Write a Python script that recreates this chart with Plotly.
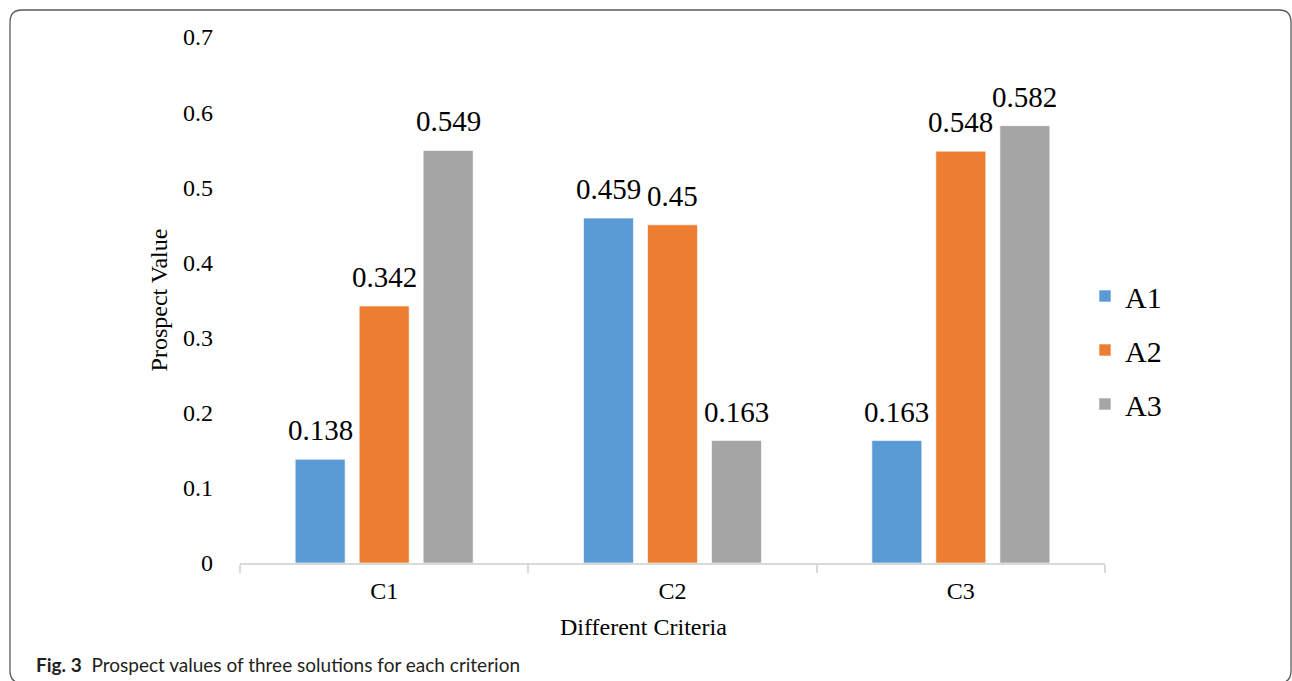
import plotly.graph_objects as go

categories = ["C1", "C2", "C3"]
series_names = ["A1", "A2", "A3"]
a1_values = [0.138, 0.459, 0.163]
a2_values = [0.342, 0.45, 0.548]
a3_values = [0.549, 0.163, 0.582]
series_values = [a1_values, a2_values, a3_values]
colors = ["#5B9BD5", "#ED7D31", "#A5A5A5"]
y_ticks = [0, 0.1, 0.2, 0.3, 0.4, 0.5, 0.6, 0.7]

W, H = 1292, 681
L, R, T, B = 240, 1105, 37, 563
SERIF = "Liberation Serif"

fig = go.Figure()
for name, vals, col in zip(series_names, series_values, colors):
    fig.add_trace(go.Bar(
        x=categories, y=vals, name=name, legendgroup=name,
        marker=dict(color=col, line=dict(color="rgba(255,255,255,0.6)", width=1)),
    ))

# data labels through the axes
slot_px = (1 - 0.334) * (R - L) / len(categories) / len(series_names)
annotations = []
for i, vals in enumerate(series_values):
    for cat, v in zip(categories, vals):
        annotations.append(dict(
            x=cat, y=v, xref="x", yref="y", text=f"{v:g}", showarrow=False,
            xanchor="center", yanchor="bottom", xshift=(i - 1) * slot_px, yshift=11,
            font=dict(family=SERIF, size=29, color="black"),
        ))


def px_x(p):
    return (p - L) / (R - L)


def px_y(p):
    return (B - p) / (B - T)


# x axis title (offset left of the plot centre, as in the reference)
annotations.append(dict(
    x=px_x(643.5), y=px_y(627), xref="paper", yref="paper", showarrow=False,
    xanchor="center", yanchor="middle", text="Different Criteria",
    font=dict(family=SERIF, size=24, color="black"),
))

# caption
annotations.append(dict(
    x=px_x(34), y=px_y(664), xref="paper", yref="paper", showarrow=False,
    xanchor="left", yanchor="middle",
    text="<b>Fig. 3</b>  Prospect values of three solutions for each criterion",
    font=dict(family="Lato", size=19, color="#231f20"),
))

# rounded frame
x0, x1, y0, y1, r = 10, 1291, 10, 683, 12
path = (
    f"M {px_x(x0 + r)},{px_y(y0)} L {px_x(x1 - r)},{px_y(y0)} "
    f"Q {px_x(x1)},{px_y(y0)} {px_x(x1)},{px_y(y0 + r)} "
    f"L {px_x(x1)},{px_y(y1 - r)} Q {px_x(x1)},{px_y(y1)} {px_x(x1 - r)},{px_y(y1)} "
    f"L {px_x(x0 + r)},{px_y(y1)} Q {px_x(x0)},{px_y(y1)} {px_x(x0)},{px_y(y1 - r)} "
    f"L {px_x(x0)},{px_y(y0 + r)} Q {px_x(x0)},{px_y(y0)} {px_x(x0 + r)},{px_y(y0)} Z"
)

fig.update_layout(
    width=W, height=H,
    margin=dict(l=L, r=W - R, t=T, b=H - B, autoexpand=False),
    paper_bgcolor="white", plot_bgcolor="white",
    barmode="group", bargap=0.334, bargroupgap=0.22,
    font=dict(family=SERIF, color="black"),
    xaxis=dict(
        type="category", showgrid=False, showline=True, linecolor="#d9d9d9", linewidth=1.5,
        ticks="outside", tickson="boundaries", ticklen=8, tickcolor="#d9d9d9", tickwidth=1.5,
        ticklabelstandoff=5,
        tickfont=dict(family=SERIF, size=24, color="black"),
        zeroline=False,
    ),
    yaxis=dict(
        range=[0, 0.7], tickvals=y_ticks, showgrid=False, showline=False, zeroline=False,
        ticks="", ticklabelstandoff=26,
        tickfont=dict(family=SERIF, size=24, color="black"),
        title=dict(text="Prospect Value", font=dict(family=SERIF, size=24, color="black"), standoff=8),
    ),
    legend=dict(
        x=px_x(1085), y=px_y(350), xanchor="left", yanchor="middle",
        font=dict(family=SERIF, size=30, color="black"),
        traceorder="grouped", tracegroupgap=12, bgcolor="rgba(0,0,0,0)",
    ),
    annotations=annotations,
    shapes=[dict(type="path", path=path, xref="paper", yref="paper",
                 line=dict(color="#5a5a5a", width=1.3), layer="above")],
)

fig.write_html("out.html")
